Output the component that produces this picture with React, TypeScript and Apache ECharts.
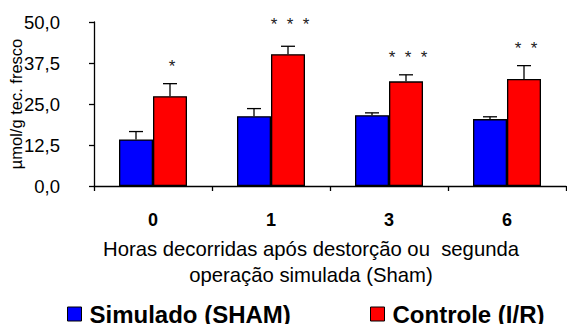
import React, { useEffect, useRef } from "react";
import * as echarts from "echarts";

const categories = ["0", "1", "3", "6"];
const shamValues = [14.2, 21.3, 21.6, 20.4];
const shamErrTop = [16.6, 23.6, 22.3, 21.1];
const irValues = [27.4, 40.2, 31.9, 32.6];
const irErrTop = [31.2, 42.6, 33.9, 36.7];
const starLabels = ["*", "*  *  *", "*  *  *", "*  *"];
const starY = [37.7, 50.6, 40.5, 43.0];
const yTicks = { min: 0, max: 50, interval: 12.5 };

const FONT = "'Liberation Sans', Arial, sans-serif";
const BAR_W = 34;

export default function App() {
  const ref = useRef<HTMLDivElement>(null);
  useEffect(() => {
    if (!ref.current) return;
    const chart = echarts.init(ref.current, null, { renderer: "svg" });

    const errSeries = (vals: number[], tops: number[], dx: number) => ({
      type: "custom",
      silent: true,
      z: 5,
      data: vals.map((v, i) => [i, v, tops[i]]),
      encode: { x: 0, y: [1, 2] },
      renderItem: (params: any, api: any) => {
        const base = api.coord([api.value(0), api.value(1)]);
        const top = api.coord([api.value(0), api.value(2)]);
        const x = base[0] + dx;
        const style = { stroke: "#000", lineWidth: 1.3 };
        return {
          type: "group",
          children: [
            { type: "line", shape: { x1: x, y1: base[1], x2: x, y2: top[1] }, style },
            { type: "line", shape: { x1: x - 7, y1: top[1], x2: x + 7, y2: top[1] }, style },
          ],
        };
      },
    });

    const legendText = {
      fontFamily: FONT,
      fontSize: 24,
      fontWeight: "bold",
      color: "#000",
      padding: [0, 0, 0, 3],
    };

    chart.setOption({
      animation: false,
      textStyle: { fontFamily: FONT },
      grid: {
        left: 94,
        right: 1,
        top: 22,
        bottom: 138,
        containLabel: false,
        outerBoundsMode: "none",
      },
      legend: [
        {
          data: ["Simulado (SHAM)"],
          left: 62,
          top: 297,
          icon: "rect",
          itemWidth: 14,
          itemHeight: 14,
          itemGap: 0,
          itemStyle: { borderColor: "#000", borderWidth: 1 },
          textStyle: legendText,
        },
        {
          data: ["Controle (I/R)"],
          left: 365,
          top: 297,
          icon: "rect",
          itemWidth: 14,
          itemHeight: 14,
          itemGap: 0,
          itemStyle: { borderColor: "#000", borderWidth: 1 },
          textStyle: legendText,
        },
      ],
      xAxis: {
        type: "category",
        data: categories,
        axisLine: { lineStyle: { color: "#000", width: 1.3 } },
        axisTick: { show: true, length: 5, lineStyle: { color: "#000", width: 1.3 } },
        axisLabel: { fontFamily: FONT, fontSize: 18, fontWeight: "bold", color: "#000", margin: 25 },
      },
      yAxis: {
        type: "value",
        min: yTicks.min,
        max: yTicks.max,
        interval: yTicks.interval,
        name: "µmol/g tec. fresco",
        nameLocation: "middle",
        nameRotate: 90,
        nameGap: 70,
        nameMoveOverlap: false,
        nameTextStyle: { fontFamily: FONT, fontSize: 16.5, color: "#000" },
        splitLine: { show: false },
        axisLine: { show: true, lineStyle: { color: "#000", width: 1.3 } },
        axisTick: { show: true, length: 5, lineStyle: { color: "#000", width: 1.3 } },
        axisLabel: {
          fontFamily: FONT,
          fontSize: 18.5,
          color: "#000",
          margin: 20,
          padding: [0, 14, 0, 0],
          formatter: (v: number) => v.toFixed(1).replace(".", ","),
        },
      },
      graphic: [
        {
          type: "text",
          x: 311,
          y: 249,
          style: {
            text: "Horas decorridas após destorção ou  segunda",
            fontFamily: FONT,
            fontSize: 20.3,
            fill: "#000",
            textAlign: "center",
            textVerticalAlign: "middle",
          },
        },
        {
          type: "text",
          x: 311,
          y: 275,
          style: {
            text: "operação simulada (Sham)",
            fontFamily: FONT,
            fontSize: 20.3,
            fill: "#000",
            textAlign: "center",
            textVerticalAlign: "middle",
          },
        },
      ],
      series: [
        {
          name: "Simulado (SHAM)",
          type: "bar",
          data: shamValues,
          barWidth: BAR_W,
          barGap: "0%",
          itemStyle: { color: "#0000FF", borderColor: "#000", borderWidth: 1.3 },
        },
        {
          name: "Controle (I/R)",
          type: "bar",
          data: irValues,
          barWidth: BAR_W,
          barGap: "0%",
          itemStyle: { color: "#FF0000", borderColor: "#000", borderWidth: 1.3 },
        },
        errSeries(shamValues, shamErrTop, -BAR_W / 2),
        errSeries(irValues, irErrTop, BAR_W / 2),
        {
          type: "custom",
          silent: true,
          clip: false,
          z: 6,
          data: starY.map((v, i) => [i, v]),
          encode: { x: 0, y: 1 },
          renderItem: (params: any, api: any) => {
            const p = api.coord([api.value(0), api.value(1)]);
            return {
              type: "text",
              style: {
                text: starLabels[params.dataIndex],
                x: p[0] + BAR_W / 2 + 2,
                y: p[1] + 4,
                fontFamily: FONT,
                fontSize: 17,
                fill: "#222",
                textAlign: "center",
                textVerticalAlign: "middle",
              },
            };
          },
        },
      ],
    });
    return () => chart.dispose();
  }, []);
  return (
    <div
      ref={ref}
      style={{ position: "fixed", left: 0, top: 0, width: 567, height: 324, background: "#fff" }}
    />
  );
}
